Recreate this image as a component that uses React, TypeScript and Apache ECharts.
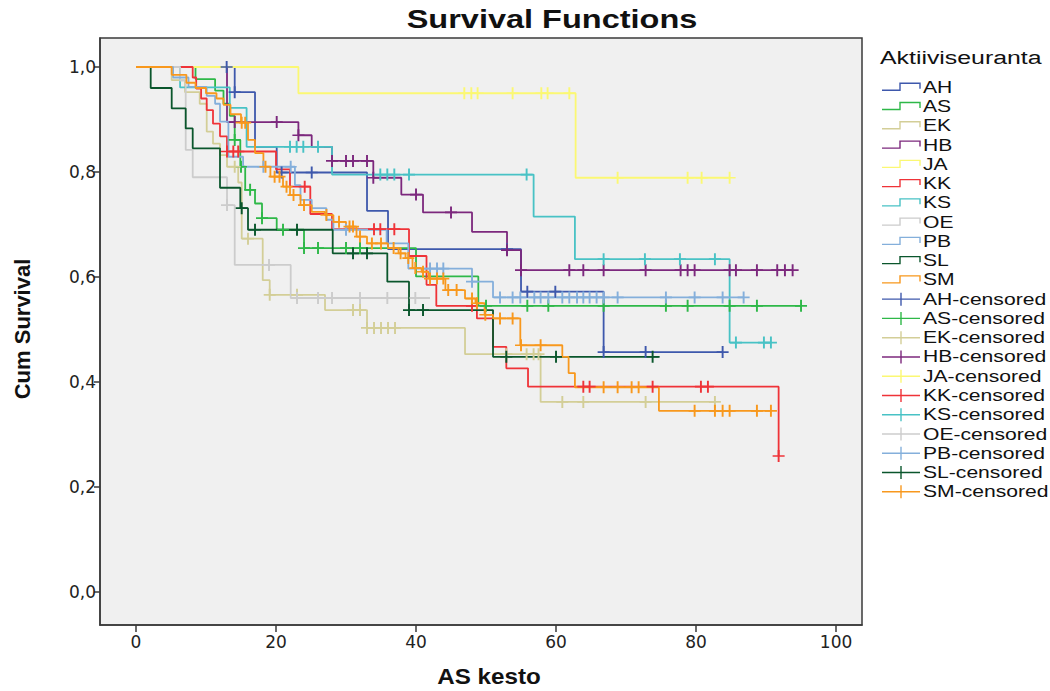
import React, { useEffect, useRef } from "react";
import * as echarts from "echarts";

// ---------- data ----------
const groups = ["AH", "AS", "EK", "HB", "JA", "KK", "KS", "OE", "PB", "SL", "SM"];
const colors = ["#3E58AC", "#2EB848", "#D3CE97", "#7C287D", "#FBF873", "#EF3338", "#48C2C5", "#CCCCCC", "#84AFDB", "#0A562C", "#F8981D"];

const xTicks = [0, 20, 40, 60, 80, 100];
const yTicks = [0, 0.2, 0.4, 0.6, 0.8, 1.0];

// [time, survival] after each event
const AH_steps = [[0, 1], [14.1, 0.952], [17, 0.848], [20.1, 0.799], [33, 0.726], [36, 0.653], [55, 0.572], [66.8, 0.457]];
const AS_steps = [[0, 1], [8.5, 0.977], [11.3, 0.955], [12.5, 0.93], [13.4, 0.907], [14.1, 0.861], [14.9, 0.81], [15.6, 0.766], [17, 0.74], [18, 0.712], [20.1, 0.69], [24, 0.655], [40, 0.601], [48.9, 0.545]];
const EK_steps = [[0, 1], [5.1, 0.975], [7, 0.952], [9.1, 0.93], [10.1, 0.877], [11, 0.854], [12, 0.832], [13, 0.81], [14.6, 0.78], [15.1, 0.673], [18.1, 0.594], [19.1, 0.566], [27, 0.537], [33, 0.503], [47, 0.453], [57.8, 0.362]];
const HB_steps = [[0, 1], [13, 0.895], [23.2, 0.87], [25.1, 0.848], [28, 0.821], [33.9, 0.789], [37.9, 0.757], [41, 0.723], [48, 0.686], [53, 0.651], [55, 0.613]];
const JA_steps = [[0, 1], [23.2, 0.95], [62.8, 0.789]];
const KK_steps = [[0, 1], [8.1, 0.98], [8.6, 0.959], [9.3, 0.94], [10.1, 0.918], [11, 0.892], [12, 0.868], [13, 0.839], [20, 0.805], [22, 0.772], [24.9, 0.72], [28, 0.691], [39, 0.64], [41.5, 0.585], [42.9, 0.545], [48.7, 0.521], [51, 0.467], [52.9, 0.426], [56, 0.391], [91.8, 0.259]];
const KS_steps = [[0, 1], [6.3, 0.961], [13.4, 0.922], [15.8, 0.848], [28, 0.795], [56.8, 0.715], [62.7, 0.634], [84.8, 0.475]];
const OE_steps = [[0, 1], [6.3, 0.974], [7.1, 0.842], [8.1, 0.79], [13, 0.737], [14.1, 0.623], [22.1, 0.56]];
const PB_steps = [[0, 1], [5.3, 0.98], [7.5, 0.962], [10.1, 0.945], [11.3, 0.93], [12, 0.896], [13.2, 0.829], [15.3, 0.81], [22.7, 0.775], [23.5, 0.747], [25.1, 0.731], [27.2, 0.709], [28.2, 0.69], [35.8, 0.664], [38.9, 0.616], [48, 0.591], [51, 0.561]];
const SL_steps = [[0, 1], [2.1, 0.96], [5.1, 0.921], [7.1, 0.883], [8.1, 0.845], [12, 0.77], [14.9, 0.731], [16, 0.69], [28.1, 0.645], [35.9, 0.591], [39, 0.537], [51, 0.448]];
const SM_steps = [[0, 1], [5.1, 0.985], [7.2, 0.97], [8.5, 0.96], [10, 0.95], [11.5, 0.94], [12.5, 0.928], [13.5, 0.91], [15, 0.894], [16, 0.861], [17, 0.836], [18.2, 0.81], [19.2, 0.791], [21, 0.772], [22, 0.756], [23.5, 0.737], [25.1, 0.724], [27, 0.718], [28.2, 0.705], [30, 0.696], [31.5, 0.677], [33, 0.664], [36, 0.655], [37.5, 0.645], [38.5, 0.636], [39.5, 0.617], [40.8, 0.61], [41.8, 0.597], [44.2, 0.575], [47, 0.559], [48.5, 0.55], [49.8, 0.528], [51, 0.521], [54.9, 0.47], [60.9, 0.448], [61.8, 0.417], [62.7, 0.39], [74.7, 0.345]];

// last follow-up time of each curve
const endTimes = [83.8, 95, 82.7, 93.8, 84.8, 91.8, 90.7, 42, 86.8, 74.8, 90.7];

// censoring times
const AH_cens = [12.95, 14.1, 20.8, 25.1, 53, 55.9, 59.9, 66.8, 72.8, 83.8];
const AS_cens = [14.1, 15, 16.3, 18, 21, 24, 26, 30, 32, 50, 55.9, 58.9, 66.8, 75.7, 78.8, 84.8, 88.7, 95];
const EK_cens = [14.1, 16, 19.1, 23, 31, 32, 33, 34, 35, 36, 37, 52.9, 55.8, 56.8, 57.5, 60.9, 63.9, 72.8, 82.7];
const HB_cens = [14.1, 20.1, 23.2, 28, 30, 31, 33, 33.9, 40, 45, 53, 55, 61.9, 63.9, 66.8, 72.8, 77.8, 78.8, 79.8, 84.8, 85.7, 88.7, 91.6, 92.7, 93.8];
const JA_cens = [46.9, 47.9, 48.8, 53.8, 57.9, 58.8, 61.9, 68.8, 78.8, 80.8, 84.8];
const KK_cens = [13, 13.9, 14.6, 24.1, 34, 34.9, 36.9, 48, 63.9, 64.8, 73.8, 80.7, 81.7, 91.8];
const KS_cens = [22, 22.95, 23.9, 26, 34.9, 35.9, 36.9, 39, 55.8, 66.8, 72.7, 77.7, 82.7, 85.7, 89.7, 90.7];
const OE_cens = [13, 19, 23, 26, 28, 32, 35.9, 39.9];
const PB_cens = [18.2, 22.1, 30, 42, 43, 43.9, 48, 52, 53.8, 54.9, 56.9, 57.8, 58.9, 60.9, 61.9, 63, 63.9, 64.8, 65.8, 66.8, 68.8, 75.7, 79.8, 83.8, 86.8];
const SL_cens = [15.1, 17, 23, 31, 33, 39, 41, 52.9, 60, 73.8];
const SM_cens = [15.1, 15.6, 18.5, 19.8, 20.5, 21.5, 22.5, 24, 27.2, 29, 30.5, 31, 32, 33.7, 35, 36.8, 37.8, 38.9, 39.9, 41, 42, 43, 43.9, 44.6, 45.8, 48, 48.7, 49.9, 52, 53.8, 55, 57.8, 66.8, 68.8, 70.8, 71.8, 79.8, 82.7, 83.8, 84.8, 88.7, 90.7];

const stepsByGroup = [AH_steps, AS_steps, EK_steps, HB_steps, JA_steps, KK_steps, KS_steps, OE_steps, PB_steps, SL_steps, SM_steps];
const censByGroup = [AH_cens, AS_cens, EK_cens, HB_cens, JA_cens, KK_cens, KS_cens, OE_cens, PB_cens, SL_cens, SM_cens];

// ---------- helpers ----------
const FONT = '"Liberation Sans", Arial, sans-serif';
const TICKFONT = '"DejaVu Sans", "Liberation Sans", sans-serif';
const PLUS = "path://M-1.6,-10H1.6V-1.4H10V1.4H1.6V10H-1.6V1.4H-10V-1.4H-1.6Z";
const STRETCH = 1.32;

function survAt(steps: number[][], t: number): number {
  let v = steps[0][1];
  for (const [ti, si] of steps) if (ti <= t + 1e-9) v = si;
  return v;
}

function buildOption() {
  const series: any[] = [];
  groups.forEach((g, i) => {
    const steps = stepsByGroup[i];
    const data = steps.map((p) => [p[0], p[1]]);
    data.push([endTimes[i], steps[steps.length - 1][1]]);
    series.push({
      type: "line",
      name: g,
      step: "end",
      data,
      showSymbol: false,
      symbol: "none",
      silent: true,
      lineStyle: { color: colors[i], width: 1.8 },
      itemStyle: { color: colors[i] },
      z: 2,
    });
  });
  groups.forEach((g, i) => {
    series.push({
      type: "scatter",
      name: g + "-censored",
      data: censByGroup[i].map((t) => [t, survAt(stepsByGroup[i], t)]),
      symbol: PLUS,
      symbolSize: 12,
      silent: true,
      itemStyle: { color: colors[i], opacity: 1 },
      z: 3,
    });
  });

  // legend (drawn as graphics)
  const legendEls: any[] = [];
  const rowY0 = 87.3;
  const rowGap = 19.26;
  legendEls.push({
    type: "text",
    x: 880,
    y: 58,
    scaleX: 1.38,
    style: { text: "Aktiiviseuranta", font: `18px ${FONT}`, fill: "#111", textAlign: "left", textVerticalAlign: "middle" },
  });
  groups.forEach((g, i) => {
    const y = rowY0 + i * rowGap;
    legendEls.push({
      type: "polyline",
      shape: { points: [[882, y + 3], [900, y + 3], [900, y - 4], [920, y - 4], [920, y + 1.5]] },
      style: { stroke: colors[i], lineWidth: 1.4, fill: null },
    });
    legendEls.push({
      type: "text",
      x: 923,
      y: y,
      scaleX: STRETCH,
      style: { text: g, font: `16px ${FONT}`, fill: "#111", textVerticalAlign: "middle", textAlign: "left" },
    });
  });
  groups.forEach((g, i) => {
    const y = rowY0 + (i + 11) * rowGap;
    legendEls.push({
      type: "line",
      shape: { x1: 882, y1: y, x2: 920, y2: y },
      style: { stroke: colors[i], lineWidth: 1.4 },
    });
    legendEls.push({
      type: "line",
      shape: { x1: 901, y1: y - 6.5, x2: 901, y2: y + 6.5 },
      style: { stroke: colors[i], lineWidth: 1.4 },
    });
    legendEls.push({
      type: "text",
      x: 923,
      y: y,
      scaleX: STRETCH,
      style: { text: g + "-censored", font: `16px ${FONT}`, fill: "#111", textVerticalAlign: "middle", textAlign: "left" },
    });
  });

  return {
    animation: false,
    backgroundColor: "#FFFFFF",
    grid: {
      left: 100,
      top: 38,
      width: 762,
      height: 587,
      show: true,
      backgroundColor: "#F0F0F0",
      borderColor: "#3a3a3a",
      borderWidth: 1.5,
    },
    xAxis: {
      type: "value",
      min: -5.143,
      max: 103.71,
      axisLine: { show: true, onZero: false, lineStyle: { color: "#3a3a3a", width: 1.5 } },
      axisTick: { show: true, inside: false, length: 7, customValues: xTicks, lineStyle: { color: "#3a3a3a", width: 1.5 } },
      axisLabel: { customValues: xTicks, color: "#222", fontSize: 17, fontFamily: TICKFONT, margin: 8 },
      splitLine: { show: false },
    },
    yAxis: {
      type: "value",
      min: -0.0629,
      max: 1.0552,
      axisLine: { show: true, onZero: false, lineStyle: { color: "#3a3a3a", width: 1.5 } },
      axisTick: { show: true, inside: false, length: 6, customValues: yTicks, lineStyle: { color: "#3a3a3a", width: 1.5 } },
      axisLabel: {
        customValues: yTicks,
        color: "#222",
        fontSize: 17,
        fontFamily: TICKFONT,
        margin: 4,
        formatter: (v: number) => v.toFixed(1).replace(".", ","),
      },
      splitLine: { show: false },
    },
    graphic: [
      {
        type: "text",
        x: 552,
        y: 19,
        scaleX: 1.3,
        style: { text: "Survival Functions", font: `bold 25px ${FONT}`, fill: "#111", textAlign: "center", textVerticalAlign: "middle" },
      },
      {
        type: "text",
        x: 489,
        y: 676,
        scaleX: 1.1,
        style: { text: "AS kesto", font: `bold 22px ${FONT}`, fill: "#111", textAlign: "center", textVerticalAlign: "middle" },
      },
      {
        type: "text",
        x: 22,
        y: 329,
        rotation: Math.PI / 2,
        style: { text: "Cum Survival", font: `bold 22px ${FONT}`, fill: "#111", textAlign: "center", textVerticalAlign: "middle" },
      },
      ...legendEls,
    ],
    series,
  };
}

export default function App() {
  const ref = useRef<HTMLDivElement>(null);
  useEffect(() => {
    if (!ref.current) return;
    const chart = echarts.init(ref.current, null, { renderer: "svg" });
    chart.setOption(buildOption() as any);
    return () => chart.dispose();
  }, []);
  return <div ref={ref} style={{ position: "fixed", left: 0, top: 0, width: 1050, height: 691, background: "#fff" }} />;
}
